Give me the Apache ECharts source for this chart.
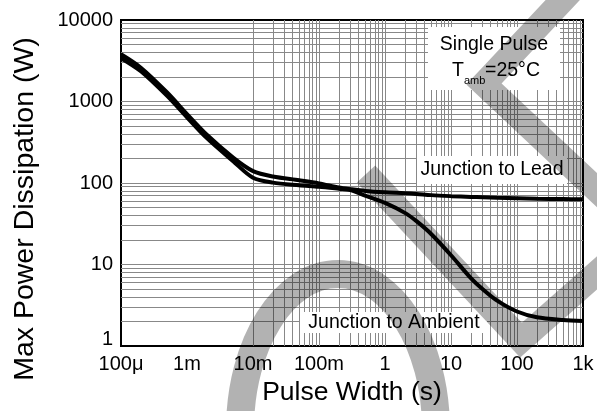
<!DOCTYPE html>
<html>
<head>
<meta charset="utf-8">
<script src="https://cdn.jsdelivr.net/npm/echarts@6/dist/echarts.min.js"></script>
<style>
  html, body { margin: 0; padding: 0; background: #fff; }
  #chart { width: 597px; height: 411px; }
</style>
</head>
<body>
<div id="chart"></div>
<script>
  // pulse width (s) and max power (W)
  const pulseWidth = [1e-4, 2e-4, 5e-4, 1e-3, 2e-3, 5e-3, 1e-2, 2e-2, 5e-2, 0.1, 0.2, 0.3, 0.5, 1, 2, 3, 5, 10, 20, 30, 50, 100, 200, 500, 1000];
  const leadPower = [3800, 2600, 1290, 700, 390, 205, 140, 120, 108, 99, 88, 84, 80, 77, 75, 73.5, 71, 69, 67.5, 67, 66, 65, 64, 63.5, 63];
  const ambientPower = [3400, 2350, 1170, 640, 355, 185, 116, 101, 94, 90, 85, 82, 70, 57, 43, 34, 23.7, 13, 6.8, 5.0, 3.6, 2.65, 2.25, 2.08, 2.02];

  const xTickLabels = ['100μ', '1m', '10m', '100m', '1', '10', '100', '1k'];
  const yTickLabels = ['1', '10', '100', '1000', '10000'];

  // log grid: 1..9 in every decade (edges are the frame)
  const mantissa = [1, 2, 3, 4, 5, 6, 7, 8, 9];
  const xDecades = [-4, -3, -2, -1, 0, 1, 2];
  const yDecades = [0, 1, 2, 3];

  function gridValues(decades) {
    let out = [];
    decades.forEach(function (d, i) {
      mantissa.forEach(function (m) {
        if (i === 0 && m === 1) return;
        out.push(m * Math.pow(10, d));
      });
    });
    return out;
  }

  const gridX = gridValues(xDecades);
  const gridY = gridValues(yDecades);

  const toPairs = function (ys) {
    return pulseWidth.map(function (x, i) { return [x, ys[i]]; });
  };

  const FONT = '"Liberation Sans", Arial, sans-serif';
  const shade = 'rgba(0,0,0,0.3)';

  var myChart = echarts.init(document.getElementById('chart'));

  var option = {
    animation: false,
    textStyle: { fontFamily: FONT, color: '#000' },
    grid: {
      left: 121, right: 14, top: 20, bottom: 65,
      show: true, borderColor: '#000', borderWidth: 2
    },
    xAxis: {
      type: 'log',
      logBase: 10,
      min: 1e-4,
      max: 1000,
      splitNumber: 7,
      name: 'Pulse Width (s)',
      nameLocation: 'middle',
      nameGap: 33,
      nameTextStyle: { fontSize: 26.5, color: '#000', fontFamily: FONT },
      axisLine: { show: true, lineStyle: { color: '#000', width: 2 } },
      axisTick: { show: false },
      splitLine: { show: false },
      axisLabel: {
        fontSize: 20, color: '#000', margin: 8, fontFamily: FONT,
        formatter: function (v) {
          return xTickLabels[Math.round(Math.log10(v)) + 4];
        }
      }
    },
    yAxis: {
      type: 'log',
      logBase: 10,
      min: 1,
      max: 10000,
      splitNumber: 4,
      name: 'Max Power Dissipation (W)',
      nameLocation: 'middle',
      nameGap: 81,
      nameTextStyle: { fontSize: 28.5, color: '#000', fontFamily: FONT, padding: [0, 52, 0, 0] },
      axisLine: { show: true, lineStyle: { color: '#000', width: 2 } },
      axisTick: { show: false },
      splitLine: { show: false },
      axisLabel: {
        fontSize: 20, color: '#000', margin: 8, fontFamily: FONT,
        formatter: function (v) {
          var k = Math.round(Math.log10(v));
          return k === 0 ? '{lo|' + yTickLabels[0] + '}' : yTickLabels[k];
        },
        rich: {
          lo: { fontSize: 20, color: '#000', fontFamily: FONT, padding: [0, 0, 14, 0] }
        }
      }
    },
    series: [
      {
        name: 'grid',
        type: 'line',
        data: [],
        silent: true,
        markLine: {
          silent: true,
          symbol: 'none',
          label: { show: false },
          lineStyle: { color: '#888', width: 1, type: 'solid' },
          data: gridX.map(function (v) { return { xAxis: v }; })
            .concat(gridY.map(function (v) { return { yAxis: v }; }))
        }
      },
      {
        name: 'Junction to Lead',
        type: 'line',
        data: toPairs(leadPower),
        showSymbol: false,
        smooth: 0.3,
        lineStyle: { color: '#000', width: 4 },
        z: 5
      },
      {
        name: 'Junction to Ambient',
        type: 'line',
        data: toPairs(ambientPower),
        showSymbol: false,
        smooth: 0.3,
        lineStyle: { color: '#000', width: 4 },
        z: 5
      }
    ],
    graphic: [
      // label boxes
      { type: 'rect', z: 10, shape: { x: 428, y: 27, width: 132, height: 63 }, style: { fill: '#fff' } },
      { type: 'text', z: 11, style: { x: 494, y: 45, text: 'Single Pulse', font: '19.5px ' + FONT, fill: '#000', align: 'center', verticalAlign: 'middle' } },
      { type: 'text', z: 11, style: { x: 452, y: 71, text: 'T', font: '19.5px ' + FONT, fill: '#000', align: 'left', verticalAlign: 'middle' } },
      { type: 'text', z: 11, style: { x: 464, y: 81, text: 'amb', font: '11px ' + FONT, fill: '#000', align: 'left', verticalAlign: 'middle' } },
      { type: 'text', z: 11, style: { x: 485, y: 71, text: '=25°C', font: '19.5px ' + FONT, fill: '#000', align: 'left', verticalAlign: 'middle' } },
      { type: 'rect', z: 10, shape: { x: 417, y: 156, width: 150, height: 28 }, style: { fill: '#fff' } },
      { type: 'text', z: 11, style: { x: 492, y: 170, text: 'Junction to Lead', font: '19.5px ' + FONT, fill: '#000', align: 'center', verticalAlign: 'middle' } },
      { type: 'rect', z: 10, shape: { x: 300, y: 312, width: 187, height: 21 }, style: { fill: '#fff' } },
      { type: 'text', z: 11, style: { x: 394, y: 323, text: 'Junction to Ambient', font: '19.5px ' + FONT, fill: '#000', align: 'center', verticalAlign: 'middle' } },
      // watermark
      {
        type: 'ellipse', z: 100, silent: true,
        shape: { cx: 338, cy: 430, rx: 98, ry: 156 },
        style: { stroke: shade, lineWidth: 28, fill: null }
      },
      {
        type: 'polyline', z: 100, silent: true,
        shape: { points: [[574, -12], [484, 84], [615, 207]] },
        style: { stroke: shade, lineWidth: 25, fill: null, lineJoin: 'miter' }
      },
      {
        type: 'polyline', z: 100, silent: true,
        shape: { points: [[366, 174], [521, 340], [615, 257]] },
        style: { stroke: shade, lineWidth: 25, fill: null, lineJoin: 'miter' }
      }
    ]
  };

  if (option && typeof option === 'object') {
    myChart.setOption(option, true);
  }
</script>
</body>
</html>
